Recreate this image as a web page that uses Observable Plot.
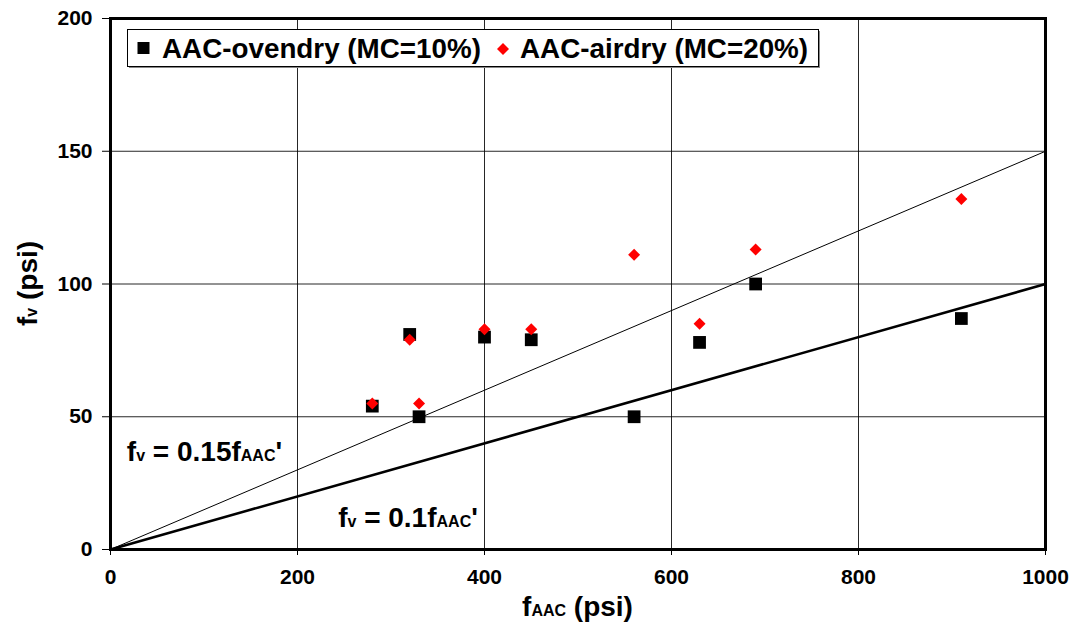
<!DOCTYPE html>
<html><head><meta charset="utf-8">
<script src="https://cdn.jsdelivr.net/npm/d3@7"></script>
<script src="https://cdn.jsdelivr.net/npm/@observablehq/plot@0.6"></script>
<style>body{margin:0;background:#fff}</style>
</head><body><div id="chart"></div>
<script>
// Data
const ovendryX = [280, 320, 330, 400, 450, 560, 630, 690, 910];
const ovendryY = [54, 81, 50, 80, 79, 50, 78, 100, 87];
const airdryX  = [280, 320, 330, 400, 450, 560, 630, 690, 910];
const airdryY  = [55, 79, 55, 83, 83, 111, 85, 113, 132];
const xTicks = [0, 200, 400, 600, 800, 1000];
const yTicks = [0, 50, 100, 150, 200];
const ratios = [0.15, 0.1];            // design lines fv = k * fAAC'
const ratioWidths = [1, 2.6];
const legendLabels = ["AAC-ovendry (MC=10%)", "AAC-airdry (MC=20%)"];

const font = "'Liberation Sans', Arial, Helvetica, sans-serif";
const ovendry = ovendryX.map((x, i) => ({x, y: ovendryY[i]}));
const airdry = airdryX.map((x, i) => ({x, y: airdryY[i]}));
const xMax = xTicks[xTicks.length - 1];
const lines = ratios.flatMap((k, j) => [{x: 0, y: 0, k: j}, {x: xMax, y: xMax * k, k: j}]);

const chart = Plot.plot({
  width: 1075, height: 625,
  marginLeft: 110, marginRight: 30, marginTop: 18, marginBottom: 76,
  style: {fontFamily: font, fontWeight: "bold", fontSize: "21px", color: "black", background: "white", overflow: "visible"},
  x: {domain: [0, 1000]},
  y: {domain: [0, 200]},
  marks: [
    Plot.gridX(xTicks.slice(1, -1), {stroke: "black", strokeOpacity: 0.85, strokeWidth: 1}),
    Plot.gridY(yTicks.slice(1, -1), {stroke: "black", strokeOpacity: 0.85, strokeWidth: 1}),
    Plot.line(lines.filter(d => d.k === 0), {x: "x", y: "y", stroke: "black", strokeWidth: ratioWidths[0]}),
    Plot.line(lines.filter(d => d.k === 1), {x: "x", y: "y", stroke: "black", strokeWidth: ratioWidths[1]}),
    Plot.axisX(xTicks, {tickSize: 6, tickPadding: 14, fontSize: 21, fontWeight: "bold", label: null, tickFormat: d3.format("d")}),
    Plot.axisY(yTicks, {tickSize: 8, tickPadding: 10, fontSize: 21, fontWeight: "bold", label: null, tickFormat: d3.format("d")}),
    Plot.frame({stroke: "black", strokeWidth: 3}),
    Plot.dot(ovendry, {x: "x", y: "y", symbol: "square", r: 7.2, fill: "black", stroke: "none"}),
    Plot.dot(airdry, {x: "x", y: "y", symbol: "diamond2", r: 5.4, fill: "red", stroke: "none"})
  ]
});
document.getElementById("chart").appendChild(chart);

const svg = d3.select(chart);
const sx = chart.scale("x"), sy = chart.scale("y");

function textEl(x, y, anchor) {
  return svg.append("text").attr("x", x).attr("y", y)
    .style("text-anchor", anchor).style("font-family", font).style("font-weight", "bold").style("fill", "black");
}
function rich(sel, parts, big, small) {
  parts.forEach(([t, s]) => sel.append("tspan").style("font-size", (s ? small : big) + "px").text(t));
  return sel;
}

// Axis titles
const xMid = (sx.apply(0) + sx.apply(1000)) / 2;
rich(textEl(xMid, 616, "middle"), [["f", 0], ["AAC", 1], [" (psi)", 0]], 28, 16);
const yMid = (sy.apply(0) + sy.apply(200)) / 2;
rich(textEl(0, 0, "middle").attr("transform", `translate(37,${yMid}) rotate(-90)`),
  [["f", 0], ["v", 1], [" (psi)", 0]], 28, 16);

// Line annotations
rich(textEl(sx.apply(18), sy.apply(33), "start"),
  [["f", 0], ["v", 1], [" = 0.15f", 0], ["AAC", 1], ["'", 0]], 28, 16);
rich(textEl(sx.apply(244), sy.apply(8.3), "start"),
  [["f", 0], ["v", 1], [" = 0.1f", 0], ["AAC", 1], ["'", 0]], 28, 16);

// Legend
const lg = svg.append("g");
lg.append("rect").attr("x", 129).attr("y", 31).attr("width", 691).attr("height", 37).attr("fill", "#888");
lg.append("rect").attr("x", 127.5).attr("y", 29.5).attr("width", 691).attr("height", 37)
  .attr("fill", "white").attr("stroke", "black").attr("stroke-width", 1);
lg.append("rect").attr("x", 137.5).attr("y", 42).attr("width", 12).attr("height", 12).attr("fill", "black");
lg.append("path").attr("d", "M503,43 L509,49 L503,55 L497,49 Z").attr("fill", "red");
[[162, legendLabels[0]], [520, legendLabels[1]]].forEach(([x, t]) => {
  lg.append("text").attr("x", x).attr("y", 58)
    .style("text-anchor", "start").style("font-family", font).style("font-weight", "bold")
    .style("font-size", "27.8px").style("fill", "black").text(t);
});
</script>
</body></html>
